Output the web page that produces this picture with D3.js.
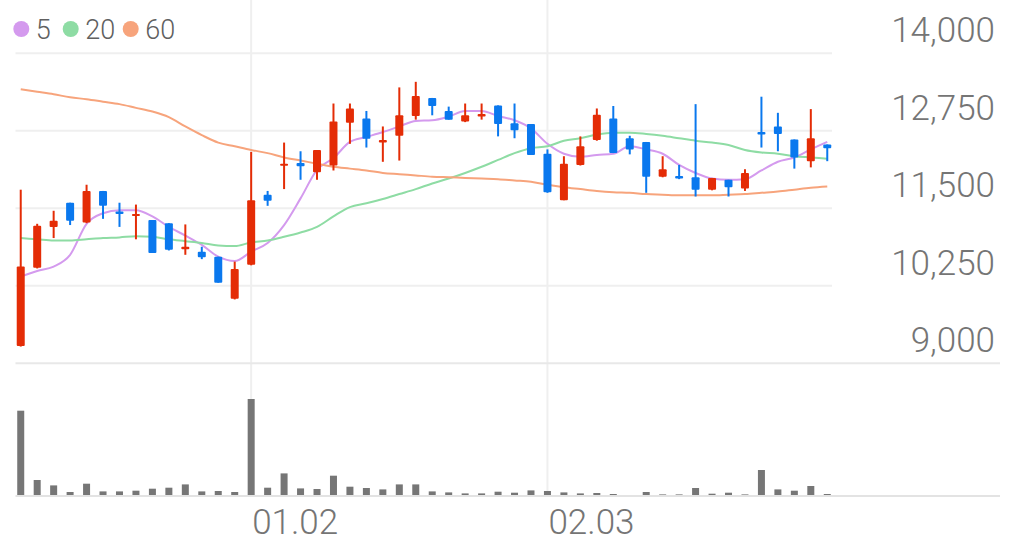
<!DOCTYPE html>
<html>
<head>
<meta charset="utf-8">
<script src="https://cdn.jsdelivr.net/npm/d3@7"></script>
<style>
  html, body { margin: 0; padding: 0; background: #ffffff; }
  svg { display: block; }
  text { font-family: Roboto, "Noto Sans", sans-serif; }
</style>
</head>
<body>
<svg id="chart" width="1025" height="545"></svg>
<script>
// ---- data ----
const dates = [
  "2024-12-10","2024-12-11","2024-12-12","2024-12-13","2024-12-16","2024-12-17","2024-12-18","2024-12-19","2024-12-20","2024-12-23",
  "2024-12-24","2024-12-26","2024-12-27","2024-12-30","2025-01-02","2025-01-03","2025-01-06","2025-01-07","2025-01-08","2025-01-09",
  "2025-01-10","2025-01-13","2025-01-14","2025-01-15","2025-01-16","2025-01-17","2025-01-20","2025-01-21","2025-01-22","2025-01-23",
  "2025-01-24","2025-01-31","2025-02-03","2025-02-04","2025-02-05","2025-02-06","2025-02-07","2025-02-10","2025-02-11","2025-02-12",
  "2025-02-13","2025-02-14","2025-02-17","2025-02-18","2025-02-19","2025-02-20","2025-02-21","2025-02-24","2025-02-25","2025-02-26"
];
const openV  = [9280,10540,11200,11590,11270,11780,11450,11380,11310,11260,10840,10800,10720,10040,10590,11720,12190,12230,12080,12190,
                12880,12950,12560,12670,12990,13280,13070,12900,12980,13160,12870,12860,12380,11630,12200,12600,12950,12630,12570,12010,
                12020,12000,11800,11960,11820,12730,12820,12610,12260,12530];
const highV  = [11800,11250,11460,11590,11880,11780,11590,11560,11310,11260,11240,10880,10720,10640,12410,11780,12560,12420,12440,13190,
                13190,13070,12820,13450,13540,13280,13140,13190,13190,13160,13190,12860,12450,12340,12660,13110,13150,12670,12570,12340,
                12200,13180,11990,11960,12130,13300,13040,12610,13100,12530];
const lowV   = [9270,10530,11020,11230,11260,11330,11200,11000,10780,10820,10750,10680,10300,10030,10580,11540,11810,11960,11960,12110,
                12540,12480,12250,12270,12930,13000,12930,12890,12930,12660,12630,12360,11750,11630,12190,12590,12390,12370,11750,12000,
                11970,11690,11790,11690,11780,12480,12420,12140,12160,12260];
const closeV = [10560,11220,11300,11300,11780,11540,11410,11410,10780,10830,10880,10710,10300,10520,11630,11620,12220,12180,12440,12900,
                13110,12620,12600,13000,13310,13150,12930,13000,13020,12860,12760,12360,11760,12220,12500,13010,12390,12450,12010,12130,
                11980,11800,11990,11840,12070,12690,12700,12320,12630,12470];
const volumeV = [85000,15700,10300,3700,12000,4300,4300,5000,7000,8000,11300,4300,4700,3700,96700,8000,22300,7300,6700,20000,
                 9000,7700,6300,11300,11300,4300,3300,2300,2300,4000,3000,5300,4700,3300,2300,2700,1700,700,3700,1300,
                 1300,7700,2000,3000,1300,25700,6300,5000,9700,1700];
const ma5  = [10400,10490,10560,10750,11250,11420,11470,11470,11370,11200,11060,10910,10720,10650,10800,10940,11230,11660,12120,12310,
              12570,12650,12730,12820,12910,12920,12980,13070,13070,12990,12920,12790,12540,12380,12330,12360,12380,12500,12450,12380,
              12200,12070,11980,11960,11970,12110,12250,12320,12450,12570];
const ma20 = [11020,11000,10980,10980,11000,11020,11030,11050,11040,11000,10970,10940,10900,10890,10950,10980,11040,11110,11200,11370,
              11520,11580,11650,11730,11810,11900,11980,12070,12170,12280,12390,12470,12500,12590,12630,12690,12720,12720,12700,12670,
              12630,12590,12560,12520,12440,12400,12380,12340,12320,12300];
const ma60 = [13420,13380,13340,13290,13260,13220,13180,13120,13060,12970,12820,12680,12560,12500,12440,12390,12320,12270,12220,12170,
              12140,12110,12070,12050,12030,12010,12000,11990,11980,11970,11950,11930,11880,11840,11810,11780,11760,11750,11730,11720,
              11710,11710,11710,11720,11730,11750,11770,11800,11830,11850];
const priceTicks = [9000, 10250, 11500, 12750, 14000];
const dateTicks = ["2025-01-02", "2025-02-03"];
const dateTickLabels = ["01.02", "02.03"];
const legendLabels = ["5", "20", "60"];

// ---- styles ----
const UP = "#e42c06", DOWN = "#0a78ee";
const maColors = ["#d49aee", "#8edca4", "#f7a47c"];
const gridColor = "#efefef";

const svg = d3.select("#chart");

const x = d3.scaleBand().domain(dates).range([12.5, 835.5]).padding(0);
const cx = d => x(d) + x.bandwidth() / 2;
const y = d3.scaleLinear().domain([9000, 14000]).range([363.3, 53.3]);
const yVol = d3.scaleLinear().domain([0, 100000]).range([495.7, 395.7]);

// horizontal grid (price)
svg.append("g").selectAll("line").data(priceTicks.filter(t => t !== 9000)).join("line")
  .attr("x1", 15.5).attr("x2", 832).attr("y1", d => y(d)).attr("y2", d => y(d))
  .attr("stroke", gridColor).attr("stroke-width", 2);

// vertical grid
svg.append("g").selectAll("line").data(dateTicks).join("line")
  .attr("x1", d => cx(d)).attr("x2", d => cx(d)).attr("y1", 0).attr("y2", 495)
  .attr("stroke", gridColor).attr("stroke-width", 2);

// separator between price and volume panes
svg.append("line").attr("x1", 15.5).attr("x2", 1000).attr("y1", y(9000)).attr("y2", y(9000))
  .attr("stroke", "#e8e8e8").attr("stroke-width", 2);

// price axis labels
const yAxis = d3.axisRight(y).tickValues(priceTicks).tickSize(0).tickFormat(d3.format(","));
const yAxisG = svg.append("g").attr("transform", "translate(995,0)").call(yAxis);
yAxisG.select(".domain").remove();
yAxisG.selectAll("text")
  .attr("x", 0).attr("dy", 0).attr("y", -11.6)
  .attr("text-anchor", "end")
  .attr("fill", "#757575").attr("font-size", 35).attr("font-weight", 300)
  .attr("font-family", "Roboto, sans-serif");

// moving averages
const series = [ma5, ma20, ma60];
const line = d3.line().x((v, i) => cx(dates[i])).y(v => y(v)).curve(d3.curveMonotoneX);
svg.append("g").selectAll("path").data(series).join("path")
  .attr("d", d => line(d))
  .attr("fill", "none")
  .attr("stroke", (d, i) => maColors[i])
  .attr("stroke-width", 2);

// candles
const candles = dates.map((d, i) => ({ d, o: openV[i], h: highV[i], l: lowV[i], c: closeV[i] }));
const bodyW = 8;
const cg = svg.append("g").selectAll("g").data(candles).join("g");
cg.append("line")
  .attr("x1", k => cx(k.d)).attr("x2", k => cx(k.d))
  .attr("y1", k => y(k.h)).attr("y2", k => y(k.l))
  .attr("stroke", k => k.c >= k.o ? UP : DOWN).attr("stroke-width", 2);
cg.append("rect")
  .attr("x", k => cx(k.d) - bodyW / 2).attr("width", bodyW)
  .attr("y", k => y(Math.max(k.o, k.c)))
  .attr("height", k => Math.max(2, Math.abs(y(k.o) - y(k.c))))
  .attr("rx", 1)
  .attr("fill", k => k.c >= k.o ? UP : DOWN);

// volume bars
svg.append("g").selectAll("rect").data(volumeV).join("rect")
  .attr("x", (v, i) => cx(dates[i]) - 3.5).attr("width", 7)
  .attr("y", v => yVol(v)).attr("height", v => yVol(0) - yVol(v))
  .attr("fill", "#767676");

// volume baseline
svg.append("line").attr("x1", 15.5).attr("x2", 1000).attr("y1", 496).attr("y2", 496)
  .attr("stroke", "#e3e3e3").attr("stroke-width", 2);

// date labels
svg.append("g").selectAll("text").data(dateTicks).join("text")
  .attr("x", d => cx(d) + 1).attr("y", 534.3)
  .attr("text-anchor", "start")
  .attr("fill", "#757575").attr("font-size", 35).attr("font-weight", 300)
  .attr("font-family", "Roboto, sans-serif")
  .text((d, i) => dateTickLabels[i]);

// legend
const legendX = [21.3, 70.7, 130.7];
const lg = svg.append("g").selectAll("g").data(legendLabels).join("g");
lg.append("circle").attr("cx", (d, i) => legendX[i]).attr("cy", 29).attr("r", 8)
  .attr("fill", (d, i) => maColors[i]);
lg.append("text").attr("x", (d, i) => legendX[i] + 14.5).attr("y", 38.5)
  .attr("fill", "#606060").attr("font-size", 27).attr("font-weight", 300)
  .attr("font-family", "Roboto, sans-serif")
  .text(d => d);
</script>
</body>
</html>
